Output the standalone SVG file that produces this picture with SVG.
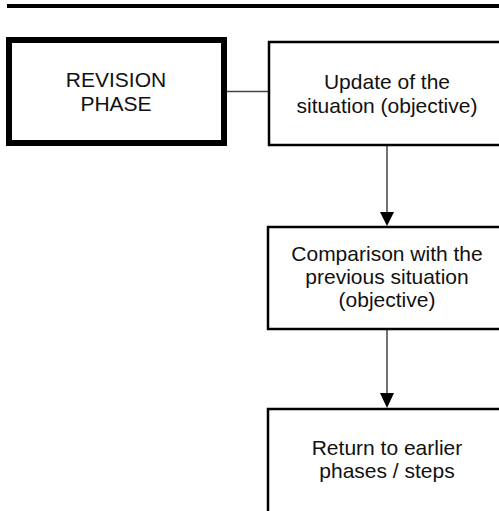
<svg xmlns="http://www.w3.org/2000/svg" width="499" height="511" viewBox="0 0 499 511">
<style>
.box{fill:#fff;stroke:#000;stroke-width:2.5}
.thick{fill:#fff;stroke:#000;stroke-width:6}
.lbl{font-family:"Liberation Sans",Arial,sans-serif;font-size:21px;fill:#111;text-anchor:middle}
.conn{stroke:#444;stroke-width:1.5;fill:none}
.head{fill:#000}
</style>
<rect x="0" y="0" width="499" height="511" fill="#fff"/>
<rect id="topbar" x="7" y="4" width="492" height="4" fill="#000"/>
<g id="connectors">
<line class="conn" x1="226" y1="91.5" x2="268" y2="91.5"/>
<line class="conn" x1="387" y1="145" x2="387" y2="213"/>
<polygon class="head" points="380,212 394,212 387,226"/>
<line class="conn" x1="387" y1="329" x2="387" y2="394"/>
<polygon class="head" points="380,393 394,393 387,408"/>
</g>
<g id="revision-phase">
<rect class="thick" x="9" y="40" width="215" height="103"/>
<text class="lbl" x="116" y="87">REVISION</text>
<text class="lbl" x="116" y="111">PHASE</text>
</g>
<g id="update">
<rect class="box" x="269" y="42" width="240" height="103"/>
<text class="lbl" x="387" y="89">Update of the</text>
<text class="lbl" x="387" y="113">situation (objective)</text>
</g>
<g id="comparison">
<rect class="box" x="268" y="227" width="240" height="102"/>
<text class="lbl" x="387" y="261">Comparison with the</text>
<text class="lbl" x="387" y="284">previous situation</text>
<text class="lbl" x="387" y="307">(objective)</text>
</g>
<g id="return">
<rect class="box" x="268" y="409" width="240" height="120"/>
<text class="lbl" x="387" y="455">Return to earlier</text>
<text class="lbl" x="387" y="478">phases / steps</text>
</g>
</svg>
